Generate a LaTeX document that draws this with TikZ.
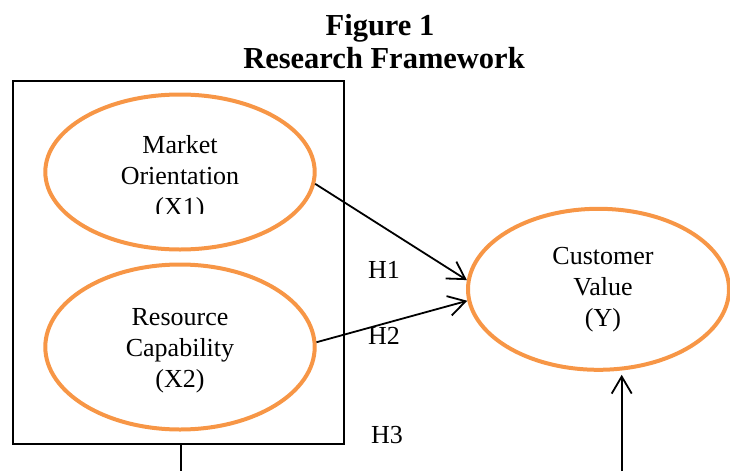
\documentclass[tikz,border=0pt]{standalone}
\usepackage{fontspec}
\setmainfont{Liberation Serif}
\usetikzlibrary{shapes.geometric,arrows.meta}
\definecolor{accent}{HTML}{F79646}
\begin{document}
\begin{tikzpicture}[x=1pt,y=-1pt,
  construct/.style={ellipse, draw=accent, line width=4pt, inner sep=0pt},
  body/.style={font=\fontsize{26}{31}\selectfont, align=center, inner sep=0pt},
  hyp/.style={font=\fontsize{26}{31}\selectfont, inner sep=0pt, anchor=base west},
  titletext/.style={font=\fontsize{30.5}{36}\selectfont\bfseries, inner sep=0pt, anchor=base},
  link/.style={line width=1.8pt, -{Straight Barb[length=17pt,width=20pt]}},
  groupbox/.style={draw, line width=2.2pt, inner sep=0pt},
]
\useasboundingbox (0,0) rectangle (730,471);
% title
\node[titletext] (t1) at (380,35) {Figure 1};
\node[titletext] (t2) at (384,68.3) {Research Framework};
% grouping box
\node[groupbox, minimum width=331.3pt, minimum height=363.3pt] (box) at (178.35,262.65) {};
% constructs
\node[construct, minimum width=269.4pt, minimum height=155pt] (mo) at (180,172) {};
\node[construct, minimum width=269.4pt, minimum height=165pt] (rc) at (180,347) {};
\node[construct, minimum width=261pt, minimum height=161pt] (cv) at (598.5,289.3) {};
% construct texts
\begin{scope}
  \clip (0,0) rectangle (730,213.5);
  \node[body] (motext) at (180,178) {Market\\Orientation\\(X1)};
\end{scope}
\node[body] (rctext) at (180,351) {Resource\\Capability\\(X2)};
\node[body] (cvtext) at (603,289.5) {Customer\\Value\\(Y)};
% hypotheses labels
\node[hyp] (h1) at (368,278) {H1};
\node[hyp] (h2) at (368,344) {H2};
\node[hyp] (h3) at (371,443) {H3};
% connectors
\draw[link] (mo.-5.5) -- (cv.176);
\draw[link] (rc.2.6) -- (cv.-175.7);
\coordinate (boxfoot) at (181,471);
\draw[line width=1.8pt] (boxfoot |- box.south) -- (boxfoot);
\coordinate (upfoot) at (621.7,471);
\draw[link] (upfoot) -- ([yshift=-3pt]upfoot |- cv.south);
\end{tikzpicture}
\end{document}
